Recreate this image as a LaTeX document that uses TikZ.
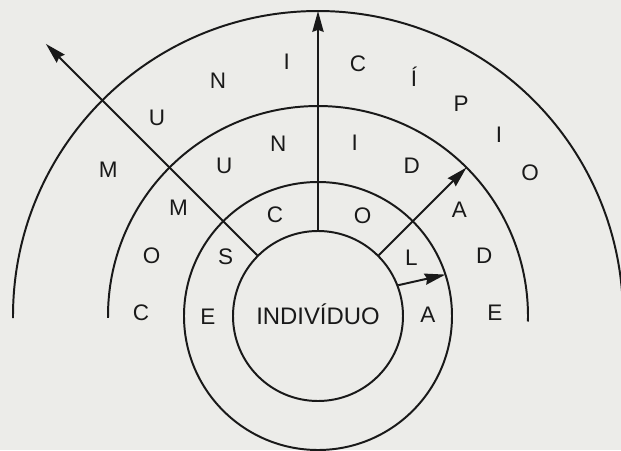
\documentclass[tikz,border=0pt]{standalone}
\usepackage{fontspec}
\setmainfont{Liberation Sans}
\usetikzlibrary{arrows.meta}
\definecolor{ink}{RGB}{25,25,25}
\definecolor{paper}{RGB}{236,236,233}
\begin{document}
\begin{tikzpicture}[color=ink, line width=1.4pt,
    every node/.style={font=\fontsize{16}{19}\selectfont},
    letra/.style={inner sep=0pt, text height=11.4pt, text depth=0pt},
    seta/.style={-{Stealth[length=0.52cm, width=0.28cm, inset=0.05cm]}}]
    \fill[paper] (-7.95,-3.35) rectangle (7.575,7.9);
    \clip (-7.95,-3.35) rectangle (7.575,7.9);
    \node[circle, draw, minimum size=4.25cm, inner sep=0pt, font=\fontsize{17}{20}\selectfont,
        text height=12.2pt, text depth=0pt] (ind) at (0,0) {INDIVÍDUO};
    \draw (0,0) circle (3.35);
    \draw (180.5:5.25) arc (180.5:-1.5:5.25);
    \draw (180.4:7.625) arc (180.4:0:7.625);
    \coordinate (topo) at (90:7.625);
    \coordinate (noroeste) at (135:9.62);
    \coordinate (nordeste) at (45:5.25);
    \coordinate (leste) at (18:3.35);
    \draw[seta] (ind.90) -- (topo);
    \draw[seta] (ind.135) -- (noroeste);
    \draw[seta] (ind.45) -- (nordeste);
    \draw[seta] (ind.21) -- (leste);
    \foreach \l/\a [count=\i] in {E/180, S/147, C/113, O/66, L/32, A/1}
        \node[letra] (escola\i) at (\a:2.75) {\l};
    \foreach \l/\a [count=\i] in {C/179, O/160, M/142, U/122, N/103, I/78, D/58, A/37, D/20, E/1}
        \node[letra] (comunidade\i) at (\a:4.425) {\l};
    \foreach \l/\a [count=\i] in {M/145, U/129, N/113, I/97, C/81, Í/68, P/56, I/45, O/34}
        \node[letra] (municipio\i) at (\a:6.4) {\l};
\end{tikzpicture}
\end{document}
